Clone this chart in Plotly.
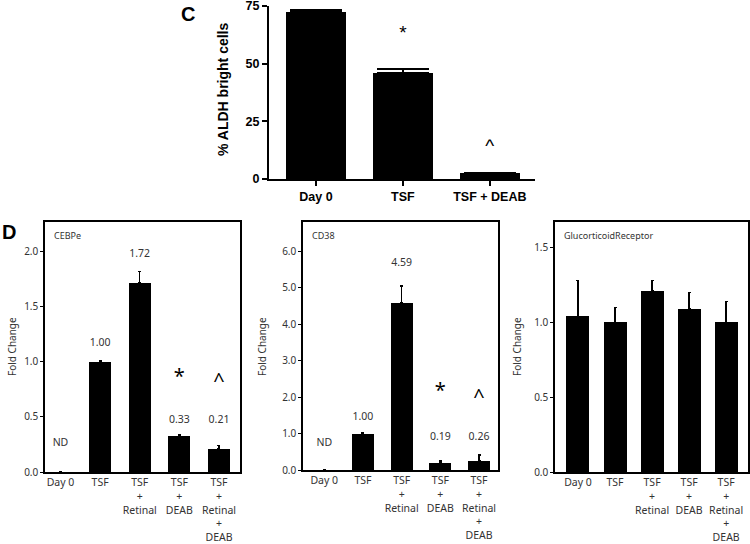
import plotly.graph_objects as go

# ---------------- data ----------------
c_categories = ["Day 0", "TSF", "TSF + DEAB"]
c_values = [72.3, 46.0, 2.6]
c_errors = [1.0, 1.7, 0.0]
c_marks = ["", "*", "^"]
c_mark_y = [None, 62.9, 13.9]
c_yticks = [0, 25, 50, 75]

d_categories = ["Day 0", "TSF", "TSF<br>+<br>Retinal", "TSF<br>+<br>DEAB",
                "TSF<br>+<br>Retinal<br>+<br>DEAB"]

cebpe_values = [0.0, 1.00, 1.72, 0.33, 0.21]
cebpe_errors = [0.0, 0.01, 0.10, 0.01, 0.03]
cebpe_labels = ["ND", "1.00", "1.72", "0.33", "0.21"]
cebpe_label_y = [0.26, 1.17, 1.98, 0.47, 0.47]
cebpe_marks = ["", "", "", "*", "^"]
cebpe_mark_y = [None, None, None, 0.85, 0.82]
cebpe_yticks = [0.0, 0.5, 1.0, 1.5, 2.0]

cd38_values = [0.0, 1.00, 4.59, 0.19, 0.26]
cd38_errors = [0.0, 0.03, 0.45, 0.06, 0.15]
cd38_labels = ["ND", "1.00", "4.59", "0.19", "0.26"]
cd38_label_y = [0.74, 1.45, 5.67, 0.90, 0.90]
cd38_marks = ["", "", "", "*", "^"]
cd38_mark_y = [None, None, None, 2.14, 1.97]
cd38_yticks = [0.0, 1.0, 2.0, 3.0, 4.0, 5.0, 6.0]

gr_values = [1.04, 1.00, 1.21, 1.09, 1.00]
gr_errors = [0.24, 0.10, 0.07, 0.11, 0.14]
gr_yticks = [0.0, 0.5, 1.0, 1.5]

# ---------------- figure ----------------
W, H = 750, 544
fig = go.Figure()

def px_x(p):
    return p / W

def px_y(p):
    return 1 - p / H

DFONT = "Noto Sans"
DCOL = "#333333"

# Panel C
fig.add_trace(go.Bar(
    x=c_categories, y=c_values, width=0.69, marker=dict(color="black", line=dict(width=0)),
    error_y=dict(type="data", array=c_errors, arrayminus=[0]*3, symmetric=False,
                 color="black", thickness=2, width=26),
    xaxis="x", yaxis="y", showlegend=False))
fig.add_trace(go.Scatter(
    x=c_categories, y=c_mark_y, text=c_marks, mode="text",
    textfont=dict(family="Liberation Sans", size=19, color="black"),
    xaxis="x", yaxis="y", showlegend=False))

panels = [
    ("x2", "y2", cebpe_values, cebpe_errors, cebpe_labels, cebpe_label_y, cebpe_marks, cebpe_mark_y, 0.555),
    ("x3", "y3", cd38_values, cd38_errors, cd38_labels, cd38_label_y, cd38_marks, cd38_mark_y, 0.57),
    ("x4", "y4", gr_values, gr_errors, None, None, None, None, 0.62),
]
for xa, ya, vals, errs, labs, laby, marks, marky, bw in panels:
    fig.add_trace(go.Bar(
        x=d_categories, y=vals, width=bw, marker=dict(color="black", line=dict(width=0)),
        error_y=dict(type="data", array=errs, arrayminus=[0]*5, symmetric=False,
                     color="black", thickness=1.5, width=1.5),
        xaxis=xa, yaxis=ya, showlegend=False))
    if labs:
        fig.add_trace(go.Scatter(
            x=d_categories, y=laby, text=labs, mode="text",
            textfont=dict(family=DFONT, size=10.5, color=DCOL),
            xaxis=xa, yaxis=ya, showlegend=False))
        fig.add_trace(go.Scatter(
            x=d_categories, y=marky, text=marks, mode="text",
            textfont=dict(family=DFONT, size=20, color="black"),
            xaxis=xa, yaxis=ya, showlegend=False))

c_axis_font = dict(family="Liberation Sans", size=12.5, color="black", weight="bold")
layout = dict(
    width=W, height=H, margin=dict(l=0, r=0, t=0, b=0, autoexpand=False),
    paper_bgcolor="white", plot_bgcolor="white", bargap=0,
    xaxis=dict(domain=[px_x(269), px_x(535)], anchor="y", range=[-0.54, 2.52],
               showline=True, linecolor="black", linewidth=2, ticks="outside",
               ticklen=5, tickwidth=2, tickcolor="black", tickfont=c_axis_font,
               showgrid=False, zeroline=False, automargin=False),
    yaxis=dict(domain=[px_y(179), px_y(6)], anchor="x", range=[0, 75],
               tickvals=c_yticks, showline=True, linecolor="black", linewidth=2,
               ticks="outside", ticklen=5, tickwidth=2, tickcolor="black",
               tickfont=c_axis_font, showgrid=False, zeroline=False, automargin=False,
               ticklabeloverflow="allow"),
)

d_specs = [
    ("2", [45, 240], [472, 222], [-0.39, 4.53], [0, 2.27], cebpe_yticks),
    ("3", [303, 498], [470, 222], [-0.55, 4.49], [0, 6.8], cd38_yticks),
    ("4", [555, 748], [472, 222], [-0.62, 4.59], [0, 1.67], gr_yticks),
]
dxtick_font = dict(family=DFONT, size=10.5, color=DCOL)
dytick_font = dict(family=DFONT, size=10, color=DCOL)
for n, xd, yd, xr, yr, yt in d_specs:
    layout["xaxis" + n] = dict(domain=[px_x(xd[0]), px_x(xd[1])], anchor="y" + n, range=xr,
                               showline=True, mirror=True, linecolor="black", linewidth=1.5,
                               ticks="", tickfont=dxtick_font, showgrid=False, zeroline=False,
                               automargin=False, ticklabeloverflow="allow")
    layout["yaxis" + n] = dict(domain=[px_y(yd[0]), px_y(yd[1])], anchor="x" + n, range=yr,
                               tickvals=yt, tickformat=".1f", showline=True, mirror=True,
                               linecolor="black", linewidth=1.5, ticks="outside", ticklen=3,
                               tickcolor="black", tickfont=dytick_font, showgrid=False,
                               zeroline=False, automargin=False, ticklabeloverflow="allow")

fig.update_layout(**layout)

ann = []
def add_ann(text, x, y, size, family, color="black", angle=0):
    ann.append(dict(text=text, x=px_x(x), y=px_y(y), xref="paper", yref="paper",
                    xanchor="center", yanchor="middle", showarrow=False, textangle=angle,
                    font=dict(family=family, size=size, color=color)))

add_ann("<b>C</b>", 188, 14, 20, "Liberation Sans")
add_ann("<b>D</b>", 9, 232, 20, "Liberation Sans")
add_ann("<b>% ALDH bright cells</b>", 223, 90, 14, "Liberation Sans", angle=-90)
for xp in [12, 262, 517]:
    add_ann("Fold Change", xp, 347, 10, DFONT, DCOL, -90)
for n, name in [("2", "CEBPe"), ("3", "CD38"), ("4", "GlucorticoidReceptor")]:
    ann.append(dict(text=name, x=0.035, y=0.945, xref="x" + n + " domain",
                    yref="y" + n + " domain", xanchor="left", yanchor="middle", showarrow=False,
                    font=dict(family=DFONT, size=9, color=DCOL)))
fig.update_layout(annotations=ann)

fig.write_html("out.html", config={"displayModeBar": False},
               post_script="document.body.style.margin='0';document.body.style.padding='0';")
